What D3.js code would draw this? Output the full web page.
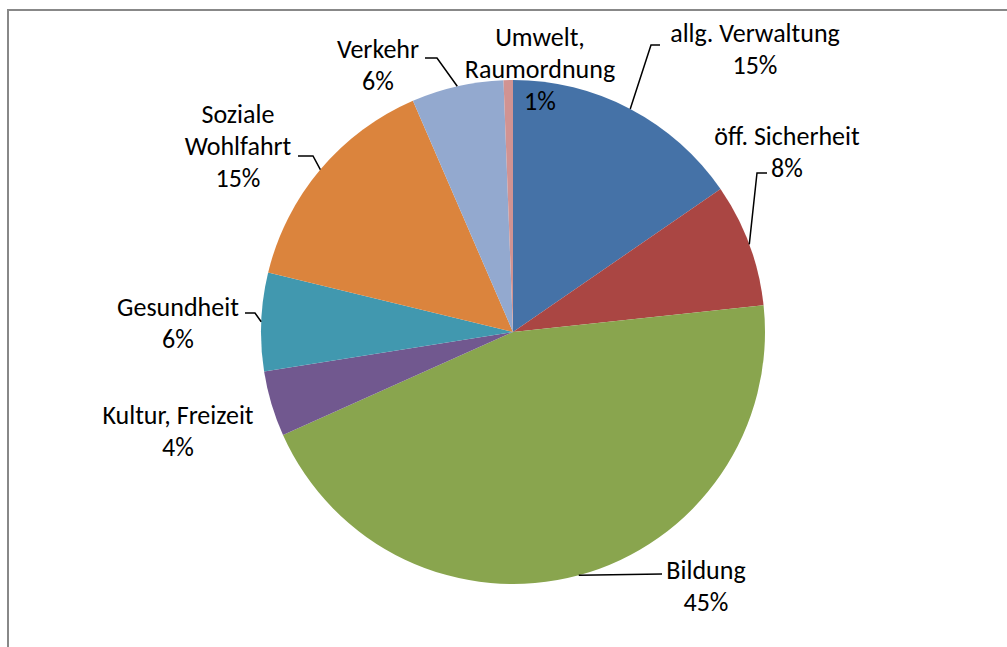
<!DOCTYPE html>
<html>
<head>
<meta charset="utf-8">
<script src="https://cdn.jsdelivr.net/npm/d3@7"></script>
<style>
  body { margin: 0; background: #fff; }
  svg text { font-family: Carlito, "Open Sans", sans-serif; font-size: 26px; fill: #000; }
</style>
</head>
<body>
<div id="chart"></div>
<script>
// Ausgaben nach Aufgabenbereich (Anteile in %)
var categories = ['allg. Verwaltung', 'öff. Sicherheit', 'Bildung', 'Kultur, Freizeit',
                  'Gesundheit', 'Soziale Wohlfahrt', 'Verkehr', 'Umwelt, Raumordnung'];
var values = [15.4, 7.9, 45.0, 4.2, 6.3, 14.7, 5.9, 0.6];
var pctLabels = ['15%', '8%', '45%', '4%', '6%', '15%', '6%', '1%'];
var colors = ['#4572A7', '#AA4643', '#89A54E', '#71588F', '#4198AF', '#DB843D', '#93A9CF', '#D19392'];

// label lines (how excel wrapped them)
var labelLines = [
  ['allg. Verwaltung', '15%'],
  ['öff. Sicherheit', '8%'],
  ['Bildung', '45%'],
  ['Kultur, Freizeit', '4%'],
  ['Gesundheit', '6%'],
  ['Soziale', 'Wohlfahrt', '15%'],
  ['Verkehr', '6%'],
  ['Umwelt,', 'Raumordnung', '1%']
];

var width = 1007, height = 647;
var cx = 513, cy = 332, radius = 252;

var svg = d3.select('#chart').append('svg')
    .attr('width', width)
    .attr('height', height);

// frame of the chart area
svg.append('path')
    .attr('d', 'M8,' + height + ' L8,10 L' + width + ',10')
    .attr('fill', 'none')
    .attr('stroke', '#888')
    .attr('stroke-width', 2);

var pie = d3.pie().sort(null).value(function(d) { return d; });
var arcs = pie(values);
var arc = d3.arc().innerRadius(0).outerRadius(radius);

var g = svg.append('g').attr('transform', 'translate(' + cx + ',' + cy + ')');

g.selectAll('path.slice')
    .data(arcs)
    .enter().append('path')
    .attr('class', 'slice')
    .attr('d', arc)
    .attr('fill', function(d, i) { return colors[i]; });

// label placement (centre of first line, absolute px) and leader elbows
var labelPos = [
  [755, 33], [787, 136], [706, 570], [178, 415],
  [178, 307], [238, 114], [378, 49], [540, 37]
];
var lineHeight = 32;
// leader: from slice mid-angle on the edge, to elbow, to end near the label
var leaders = [
  { idx: 0, elbow: [651, 45], end: [660, 45] },
  { idx: 1, elbow: [757, 173], end: [767, 173] },
  { idx: 2, elbow: [662, 574], end: [662, 574] },
  { idx: 4, elbow: [255, 313], end: [245, 313] },
  { idx: 5, elbow: [313, 156], end: [298, 156] },
  { idx: 6, elbow: [437, 58], end: [425, 58] }
];

leaders.forEach(function(l) {
  var a = arcs[l.idx];
  var ang = (a.startAngle + a.endAngle) / 2;
  var px = cx + Math.sin(ang) * radius;
  var py = cy - Math.cos(ang) * radius;
  svg.append('path')
      .attr('d', d3.line()([[px, py], l.elbow, l.end]))
      .attr('fill', 'none')
      .attr('stroke', '#000')
      .attr('stroke-width', 1.5);
});

labelLines.forEach(function(lines, i) {
  var t = svg.append('text')
      .attr('text-anchor', 'middle')
      .attr('x', labelPos[i][0])
      .attr('y', labelPos[i][1]);
  lines.forEach(function(s, j) {
    t.append('tspan')
        .attr('x', labelPos[i][0])
        .attr('y', labelPos[i][1] + j * lineHeight)
        .attr('dy', '0.35em')
        .text(s);
  });
});
</script>
</body>
</html>
